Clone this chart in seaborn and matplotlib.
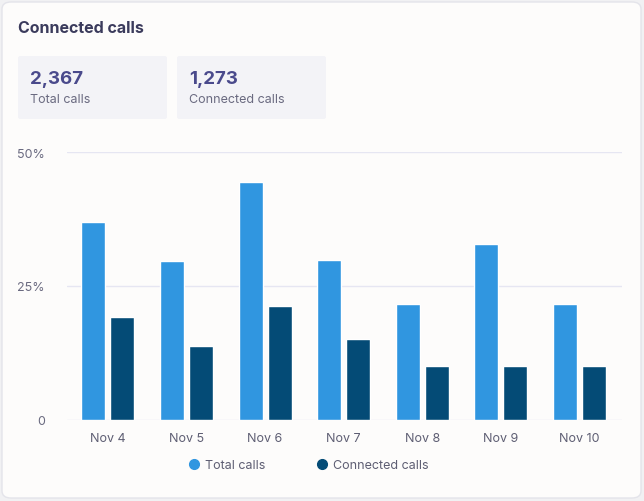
import pandas as pd
import matplotlib.pyplot as plt
import seaborn as sns
from matplotlib.patches import FancyBboxPatch
from matplotlib.lines import Line2D

# Chart data
days = ["Nov 4", "Nov 5", "Nov 6", "Nov 7", "Nov 8", "Nov 9", "Nov 10"]
total_pct = [37, 29.7, 44.4, 29.9, 21.6, 32.8, 21.6]
connected_pct = [19.2, 13.8, 21.3, 15.1, 10, 10, 10]
series_names = ["Total calls", "Connected calls"]
y_ticks = [0, 25, 50]
y_tick_labels = ["0", "25%", "50%"]

# Summary cards
card_values = ["2,367", "1,273"]
card_labels = ["Total calls", "Connected calls"]

colors = ["#3096E0", "#044B76"]

df = pd.DataFrame({
    "day": days * 2,
    "value": total_pct + connected_pct,
    "series": [series_names[0]] * len(days) + [series_names[1]] * len(days),
})

sns.set_style("white")
plt.rcParams["font.family"] = ["Inter", "DejaVu Sans"]

W, H = 644, 502
fig = plt.figure(figsize=(W / 100, H / 100), dpi=100)
fig.patch.set_facecolor("#f1f1f3")

# Card background
card = FancyBboxPatch((2 / W, 3 / H), 639 / W, 496 / H,
                      boxstyle="round,pad=0,rounding_size=0.014",
                      transform=fig.transFigure, facecolor="#fdfcfb",
                      edgecolor="#e4e4ea", linewidth=1, zorder=-2)
fig.patches.append(card)

fig.text(18 / W, 1 - 29 / H, "Connected calls", fontsize=11.5, fontweight="bold",
         color="#3b3b5c", va="center", ha="left")

# Stat boxes
box_x = [18, 177]
for bx, val, lab in zip(box_x, card_values, card_labels):
    box = FancyBboxPatch((bx / W, 1 - 120 / H), 149 / W, 63 / H,
                         boxstyle="round,pad=0,rounding_size=0.004",
                         transform=fig.transFigure, facecolor="#f3f3f7",
                         edgecolor="none", zorder=-1)
    fig.patches.append(box)
    fig.text((bx + 12) / W, 1 - 80 / H, val, fontsize=13.5, fontweight="bold",
             color="#4a4a8c", va="center", ha="left")
    fig.text((bx + 12) / W, 1 - 100 / H, lab, fontsize=9,
             color="#6a6a80", va="center", ha="left")

# Bar chart
ax = fig.add_axes([67 / W, (H - 420.7) / H, 555 / W, (420.7 - 153.3) / H])
ax.set_zorder(2)
ax.set_facecolor("none")
sns.barplot(data=df, x="day", y="value", hue="series", palette=colors,
            width=0.737, gap=0.17, saturation=1, legend=False, ax=ax)

ax.set_ylim(0, 50)
ax.set_xlim(-0.52, 6.54)
ax.set_yticks(y_ticks)
ax.set_yticklabels(y_tick_labels)
for y in y_ticks:
    ax.axhline(y, color="#e6e6f2", linewidth=1, zorder=0)
for s in ax.spines.values():
    s.set_visible(False)
ax.tick_params(axis="y", length=0, pad=16, labelsize=9, labelcolor="#6a6a80")
ax.tick_params(axis="x", length=0, pad=9, labelsize=9, labelcolor="#5e5e73")
ax.set_xlabel("")
ax.set_ylabel("")

# Legend
handles = [Line2D([0], [0], marker="o", linestyle="", markersize=7,
                  markerfacecolor=c, markeredgecolor=c) for c in colors]
leg = fig.legend(handles, series_names, loc="center",
                 bbox_to_anchor=(308 / W, 1 - 466 / H), ncol=2, frameon=False,
                 fontsize=9, handletextpad=0.4, columnspacing=4.0,
                 handlelength=1)
for t in leg.get_texts():
    t.set_color("#5e5e73")

fig.savefig("out.png", dpi=100, facecolor=fig.get_facecolor())
